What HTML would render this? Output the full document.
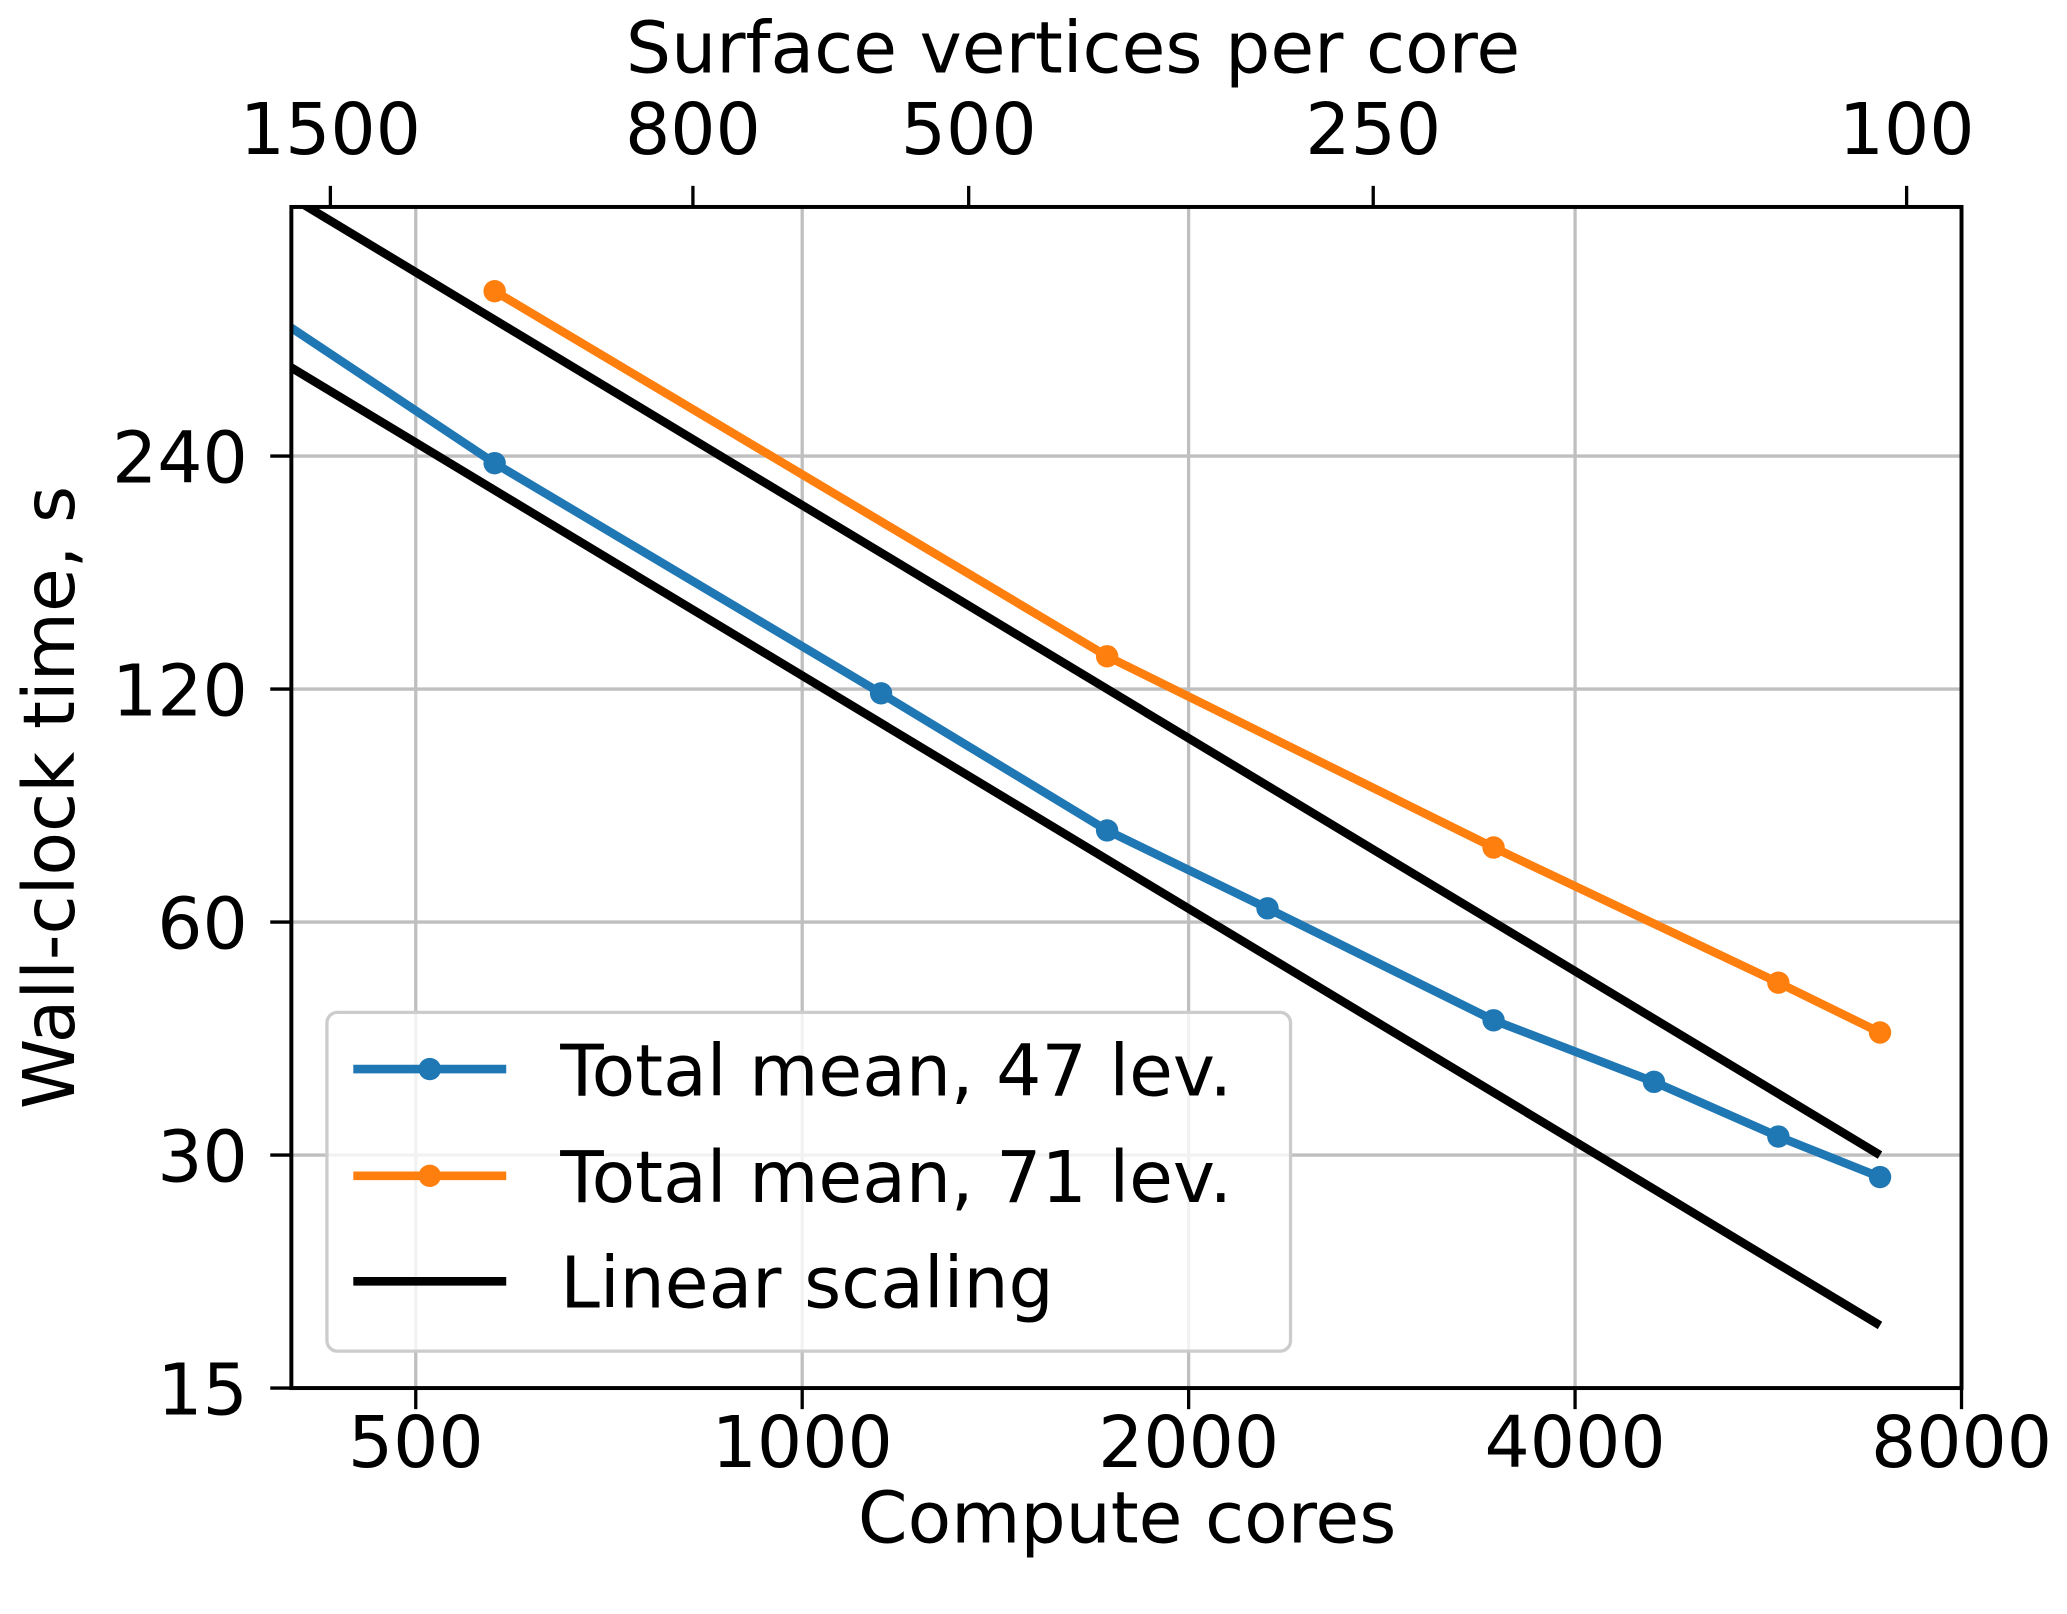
<!DOCTYPE html>
<html><head><meta charset="utf-8"><style>
html,body{margin:0;padding:0;background:#fff;}
svg{display:block;font-family:"DejaVu Sans","Liberation Sans",sans-serif;}
</style></head><body>
<svg id="chart" width="2067" height="1614" viewBox="0 0 1568 1224.4" xmlns="http://www.w3.org/2000/svg">
<defs><clipPath id="plotclip"><rect x="221" y="157" width="1267" height="896"/></clipPath></defs>
<g id="grid"></g>
<g id="series" clip-path="url(#plotclip)"></g>
<g id="axes"></g>
<g id="legend"></g>
</svg>
<script>
const xTicks = [500, 1000, 2000, 4000, 8000];
const yTicks = [15, 30, 60, 120, 240];
const topTickCores = [429, 822, 1348, 2785, 7250];
const topTickLabels = ["1500", "800", "500", "250", "100"];
const cores47 = [288, 576, 1152, 1728, 2304, 3456, 4608, 5760, 6912];
const time47 = [505, 235, 118.5, 78.8, 62.5, 44.8, 37.3, 31.7, 28.1];
const cores71 = [576, 1728, 3456, 5760, 6912];
const time71 = [392, 132.3, 74.9, 50.1, 43.2];
const linearCores = [288, 6912];
const linearConstA = 207360;
const linearConstB = 124900;

const L=221,R=1488,T=157,B=1053;
const xMin=400,xMax=8000,yMin=15,yMax=503.6;
function X(v){return L+(R-L)*Math.log(v/xMin)/Math.log(xMax/xMin);}
function Y(v){return B-(B-T)*Math.log(v/yMin)/Math.log(yMax/yMin);}
const NS="http://www.w3.org/2000/svg";
function mk(tag,attrs,parent){const e=document.createElementNS(NS,tag);for(const k in attrs)e.setAttribute(k,attrs[k]);parent.appendChild(e);return e;}
const grid=document.getElementById('grid'),series=document.getElementById('series'),axes=document.getElementById('axes'),legend=document.getElementById('legend');
const FS=54;
const TL=16;
xTicks.forEach(v=>{
 const g=mk('line',{x1:X(v),x2:X(v),y1:T,y2:B,stroke:'#bfbfbf','stroke-width':2.5},grid);
 
 
 mk('line',{x1:X(v),x2:X(v),y1:B,y2:B+TL,stroke:'#000','stroke-width':2.5},axes);
 const t=mk('text',{x:X(v),y:B+60,'text-anchor':'middle','font-size':FS},axes);t.textContent=v;
 
 
});
yTicks.forEach(v=>{
 const g=mk('line',{x1:L,x2:R,y1:Y(v),y2:Y(v),stroke:'#bfbfbf','stroke-width':2.5},grid);
 
 
 mk('line',{x1:L-TL,x2:L,y1:Y(v),y2:Y(v),stroke:'#000','stroke-width':2.5},axes);
 const t=mk('text',{x:L-33,y:Y(v)+20,'text-anchor':'end','font-size':FS},axes);t.textContent=v;
 
 
});
topTickCores.forEach((c,i)=>{
 mk('line',{x1:X(c),x2:X(c),y1:T,y2:T-TL,stroke:'#000','stroke-width':2.5},axes);
 const t=mk('text',{x:X(c),y:T-40,'text-anchor':'middle','font-size':FS},axes);t.textContent=topTickLabels[i];
 
 
});
function drawLine(cs,vs,color,name,markers){
 const p=mk('polyline',{points:cs.map((c,i)=>X(c)+','+Y(vs[i])).join(' '),fill:'none',stroke:color,'stroke-width':6.5,'stroke-linejoin':'round'},series);
 
 
 if(markers)cs.forEach((c,i)=>{const m=mk('circle',{cx:X(c),cy:Y(vs[i]),r:8.5,fill:color},series);
  
  });
}
drawLine(linearCores,linearCores.map(c=>linearConstA/c),'#000','linear-scaling-line-a',false);
drawLine(linearCores,linearCores.map(c=>linearConstB/c),'#000','linear-scaling-line-b',false);
drawLine(cores47,time47,'#1f77b4','series-47-lev',true);
drawLine(cores71,time71,'#ff7f0e','series-71-lev',true);
const fr=mk('rect',{x:L,y:T,width:R-L,height:B-T,fill:'none',stroke:'#000','stroke-width':3},axes);


function lbl(txt,attrs,name){const t=mk('text',Object.assign({'font-size':FS,'text-anchor':'middle'},attrs),axes);t.textContent=txt;
 
 }
lbl('Compute cores',{x:855,y:1170},'x-axis-title');
lbl('Surface vertices per core',{x:814,y:55},'top-axis-title');
lbl('Wall-clock time, s',{x:0,y:0,transform:'translate(56,605) rotate(-90)'},'y-axis-title');
const lb=mk('rect',{x:248,y:768,width:731,height:257,rx:8,fill:'#fff','fill-opacity':0.8,stroke:'#cccccc','stroke-width':2.5},legend);


const entries=[['Total mean, 47 lev.','#1f77b4',true,811],['Total mean, 71 lev.','#ff7f0e',true,892],['Linear scaling','#000',false,972]];
entries.forEach(e=>{
 const g=mk('g',{},legend);
 
 
 mk('line',{x1:268,x2:384,y1:e[3],y2:e[3],stroke:e[1],'stroke-width':6.5},g);
 if(e[2])mk('circle',{cx:326,cy:e[3],r:8.5,fill:e[1]},g);
 const t=mk('text',{x:425,y:e[3]+20,'font-size':FS},g);t.textContent=e[0];
});
</script>
</body></html>
